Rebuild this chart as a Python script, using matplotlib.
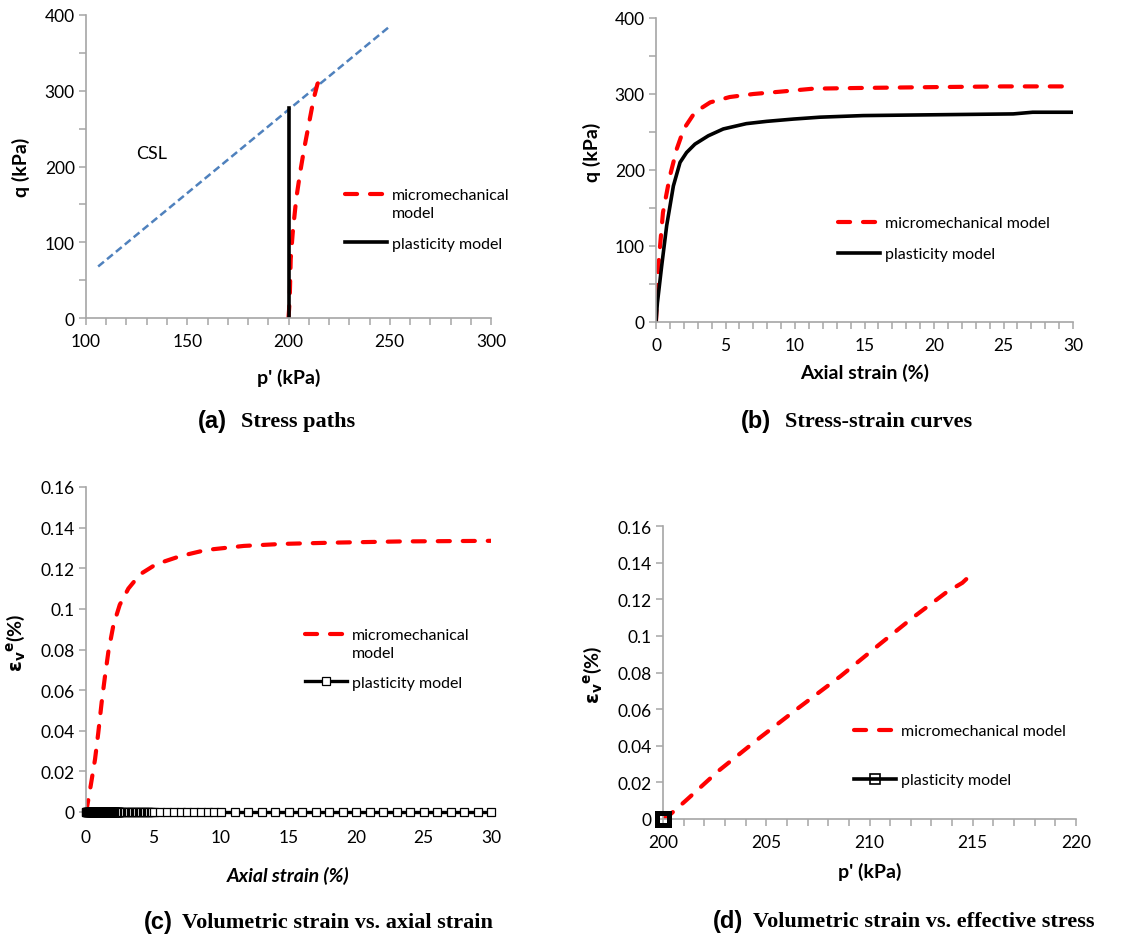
import numpy as np
import matplotlib
matplotlib.use("Agg")
import matplotlib.pyplot as plt
from matplotlib.ticker import MultipleLocator, FuncFormatter

plt.rcParams['font.family'] = ['Lato', 'DejaVu Sans']
plt.rcParams['mathtext.fontset'] = 'dejavusans'

# --- (a) stress paths ---
a_csl_p = [106, 250]
a_csl_q = [68, 385]
a_plast_p = [200, 200]
a_plast_q = [0, 277]
a_micro_p = [200.0, 200.3, 200.6, 201.1, 202.1, 203.8, 205.8, 207.7, 209.9, 212.4, 214.3, 215.3]
a_micro_q = [0, 12, 25, 78, 113, 157, 193, 223, 254, 289, 309, 313]

# --- (b) stress-strain ---
b_strain_micro = [0, 0.05, 0.17, 0.5, 1.0, 1.5, 2.0, 2.8, 3.9, 5.3, 7.0, 8.9, 11.3, 14.9, 19.7, 25, 30]
b_q_micro = [0, 25, 74, 144, 192, 228, 254, 276, 289, 296, 300, 303, 307, 308, 309, 310, 310]
b_strain_plast = [0, 0.1, 0.41, 0.77, 1.25, 1.73, 2.2, 2.8, 3.76, 4.84, 6.5, 7.96, 9.87, 11.8, 14.9, 19.2, 25.7, 27.1, 30]
b_q_plast = [0, 25, 74, 127, 179, 210, 223, 234, 245, 254, 261, 264, 267, 269.5, 271.6, 272.5, 273.8, 276, 276]

# --- (c) volumetric strain vs axial strain ---
c_strain_micro = [0, 0.1, 0.35, 0.67, 0.91, 1.16, 1.41, 1.66, 2.03, 2.5, 3.14, 4.0, 5.2, 7.0, 8.9, 11.7, 14.6, 18.3, 23.3, 30]
c_ev_micro = [0, 0.0033, 0.013, 0.026, 0.039, 0.054, 0.067, 0.079, 0.092, 0.102, 0.110, 0.117, 0.122,
              0.126, 0.129, 0.131, 0.132, 0.1326, 0.1332, 0.1335]
# plasticity model output steps (fine at start, coarser later), elastic vol. strain stays zero
c_strain_plast = np.concatenate([np.arange(0, 2.5, 0.02), np.arange(2.5, 5.0, 0.1),
                                 np.arange(5.0, 10.0, 0.5), np.arange(10, 31, 1.0)])
c_ev_plast = np.zeros(len(c_strain_plast))

# --- (d) volumetric strain vs effective stress ---
d_p_micro = [200, 200.3, 201.1, 202.7, 204.7, 206.6, 208.6, 210.5, 212.1, 213.7, 214.5, 215.06]
d_ev_micro = [0, 0.002, 0.01, 0.0264, 0.0445, 0.061, 0.078, 0.0955, 0.11, 0.1236, 0.129, 0.135]
d_p_plast = np.full(len(c_strain_plast), 200.0)
d_ev_plast = c_ev_plast

RED = '#FF0000'
GRAY = '#A6A6A6'
red_kw = dict(color=RED, lw=3.0, dashes=(2.9, 3.1), dash_capstyle='round')
ev_label = r'$\mathbf{\varepsilon_v{}^e}$(%)'
TICK_FS = 12.5
LAB_FS = 14
LEG_FS = 11.5

fig = plt.figure(figsize=(11.47, 9.37), dpi=100)
W, H = 1147, 937


def make_ax(l, r, t, b):
    return fig.add_axes([l / W, 1 - b / H, (r - l) / W, (b - t) / H])


def style(ax, xmaj, xmin, ymaj, ymin):
    for s in ['top', 'right']:
        ax.spines[s].set_visible(False)
    for s in ['left', 'bottom']:
        ax.spines[s].set_color(GRAY)
        ax.spines[s].set_linewidth(1.2)
    ax.xaxis.set_major_locator(MultipleLocator(xmaj))
    ax.yaxis.set_major_locator(MultipleLocator(ymaj))
    if xmin:
        ax.xaxis.set_minor_locator(MultipleLocator(xmin))
    if ymin:
        ax.yaxis.set_minor_locator(MultipleLocator(ymin))
    ax.tick_params(which='both', direction='out', color=GRAY, width=1.1, labelsize=TICK_FS)
    ax.tick_params(axis='x', which='both', length=5, pad=6)
    ax.tick_params(axis='y', which='both', length=5, pad=3)


def legend(ax, x, y, spacing, two_line):
    leg = ax.legend(loc='upper left', bbox_to_anchor=(x / W, 1 - y / H), bbox_transform=fig.transFigure,
                    frameon=False, fontsize=LEG_FS, borderpad=0, borderaxespad=0,
                    handlelength=2.6, handletextpad=0.35, labelspacing=spacing)
    if two_line:
        leg.get_texts()[0].set_linespacing(1.4)
        try:
            row = leg._legend_handle_box.get_children()[0].get_children()[0]
            row.align = 'top'
        except Exception:
            pass
    return leg


# (a)
ax = make_ax(86, 491, 16, 319)
ax.plot(a_csl_p, a_csl_q, color='#4F81BD', lw=1.8, dashes=(3, 1.6))
ax.plot(a_micro_p, a_micro_q, label='micromechanical\nmodel', **red_kw)
ax.plot(a_plast_p, a_plast_q, color='black', lw=2.6, label='plasticity model')
ax.text(132.5, 218, 'CSL', fontsize=13, ha='center', va='center')
ax.set_xlim(100, 300)
ax.set_ylim(0, 400)
style(ax, 50, 10, 100, 50)
ax.set_xlabel("p' (kPa)", fontsize=LAB_FS, fontweight='bold', va='top')
ax.xaxis.set_label_coords(0.5, -0.165)
ax.set_ylabel('q (kPa)', fontsize=LAB_FS, fontweight='bold')
ax.yaxis.set_label_coords(-0.138, 0.5)
legend(ax, 345, 189, 1.0, True)

# (b)
ax = make_ax(656, 1073, 19, 323)
ax.plot(b_strain_micro, b_q_micro, label='micromechanical model', **red_kw)
ax.plot(b_strain_plast, b_q_plast, color='black', lw=2.6, label='plasticity model')
ax.set_xlim(0, 30)
ax.set_ylim(0, 400)
style(ax, 5, 1, 100, 50)
ax.set_xlabel('Axial strain (%)', fontsize=LAB_FS, fontweight='bold', va='top')
ax.xaxis.set_label_coords(0.5, -0.135)
ax.set_ylabel('q (kPa)', fontsize=LAB_FS, fontweight='bold')
ax.yaxis.set_label_coords(-0.132, 0.5625)
legend(ax, 838, 217, 1.05, False)

fmt = FuncFormatter(lambda v, _: f'{v:g}')

# (c)
ax = make_ax(86, 491, 488, 813)
ax.plot(c_strain_micro, c_ev_micro, label='micromechanical\nmodel', **red_kw)
ax.plot(c_strain_plast, c_ev_plast, color='black', lw=2.4, marker='s', ms=5.2, mfc='white',
        mec='black', mew=0.9, clip_on=False, label='plasticity model', zorder=3)
ax.set_xlim(0, 30)
ax.set_ylim(0, 0.16)
style(ax, 5, None, 0.02, None)
ax.tick_params(axis='x', length=0, pad=12)
ax.yaxis.set_major_formatter(fmt)
ax.set_xlabel('Axial strain (%)', fontsize=LAB_FS, fontweight='bold', fontstyle='italic', va='top')
ax.xaxis.set_label_coords(0.5, -0.165)
ax.set_ylabel(ev_label, fontsize=LAB_FS, fontweight='bold')
ax.yaxis.set_label_coords(-0.146, 0.523)
legend(ax, 305, 629, 0.95, True)

# (d)
ax = make_ax(663, 1076, 527, 820)
ax.plot(d_p_micro, d_ev_micro, label='micromechanical model', **red_kw)
ax.plot(d_p_plast, d_ev_plast, color='black', lw=2.6, marker='s', ms=8.5, mfc='none',
        mec='black', mew=2.4, clip_on=False, label='plasticity model', zorder=3)
ax.set_xlim(200, 220)
ax.set_ylim(0, 0.16)
style(ax, 5, 1, 0.02, None)
ax.yaxis.set_major_formatter(fmt)
ax.set_xlabel("p' (kPa)", fontsize=LAB_FS, fontweight='bold', va='top')
ax.xaxis.set_label_coords(0.5, -0.145)
ax.set_ylabel(ev_label, fontsize=LAB_FS, fontweight='bold')
ax.yaxis.set_label_coords(-0.143, 0.495)
leg = legend(ax, 854, 725, 2.2, False)
leg.legend_handles[1].set_markeredgewidth(1.2)
leg.legend_handles[1].set_markersize(7.5)

# captions
captions = [(198, 241, 422, '(a)', 'Stress paths'),
            (741, 785, 422, '(b)', 'Stress-strain curves'),
            (144, 182, 923, '(c)', 'Volumetric strain vs. axial strain'),
            (713, 753, 922, '(d)', 'Volumetric strain vs. effective stress')]
for xl, xt, yc, tag, txt in captions:
    fig.text(xl / W, 1 - yc / H, tag, family='Liberation Sans', fontweight='bold', fontsize=17,
             ha='left', va='center')
    fig.text(xt / W, 1 - yc / H, txt, family='Liberation Serif', fontweight='bold', fontsize=16,
             ha='left', va='center')

fig.savefig('out.png', dpi=100)
